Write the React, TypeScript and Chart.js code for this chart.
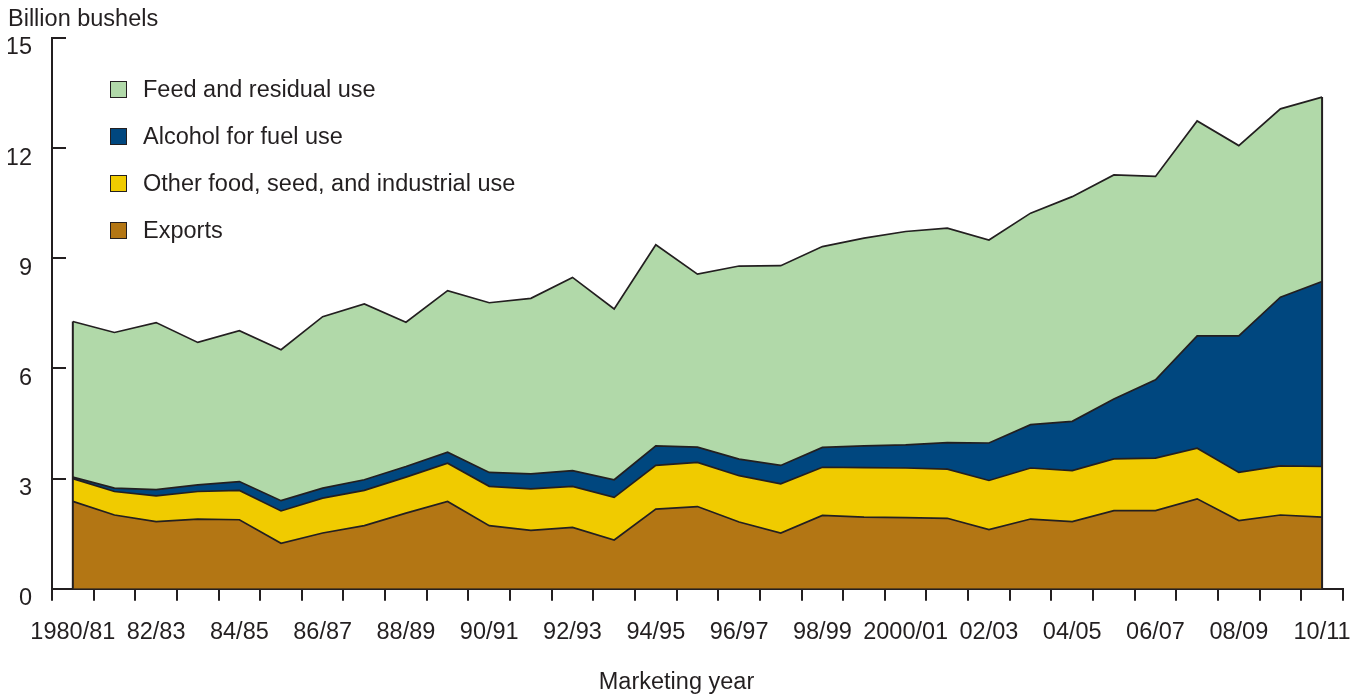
import React, { useEffect, useRef } from 'react';
import { Chart, registerables } from 'chart.js';

Chart.register(...registerables);

const marketingYears = [
  '1980/81', '81/82', '82/83', '83/84', '84/85', '85/86', '86/87', '87/88', '88/89', '89/90',
  '90/91', '91/92', '92/93', '93/94', '94/95', '95/96', '96/97', '97/98', '98/99', '99/2000',
  '2000/01', '01/02', '02/03', '03/04', '04/05', '05/06', '06/07', '07/08', '08/09', '09/10', '10/11',
];

const shownYearLabels = [
  '1980/81', '82/83', '84/85', '86/87', '88/89', '90/91', '92/93', '94/95',
  '96/97', '98/99', '2000/01', '02/03', '04/05', '06/07', '08/09', '10/11',
];

const exportsUse = [
  2.38, 2.01, 1.83, 1.90, 1.88, 1.24, 1.52, 1.72, 2.06, 2.38,
  1.72, 1.59, 1.67, 1.33, 2.17, 2.24, 1.82, 1.52, 2.00, 1.95,
  1.94, 1.92, 1.61, 1.90, 1.83, 2.13, 2.13, 2.45, 1.86, 2.01, 1.95,
];

const otherFsiUse = [
  0.62, 0.64, 0.70, 0.75, 0.80, 0.88, 0.95, 0.96, 0.98, 1.04,
  1.07, 1.13, 1.12, 1.16, 1.19, 1.20, 1.26, 1.34, 1.31, 1.35,
  1.35, 1.34, 1.34, 1.39, 1.39, 1.41, 1.43, 1.38, 1.31, 1.34, 1.38,
];

const alcoholFuelUse = [
  0.04, 0.09, 0.17, 0.18, 0.24, 0.28, 0.27, 0.29, 0.29, 0.30,
  0.38, 0.41, 0.43, 0.48, 0.53, 0.42, 0.45, 0.50, 0.54, 0.59,
  0.63, 0.72, 1.02, 1.18, 1.34, 1.63, 2.13, 3.06, 3.72, 4.59, 5.04,
];

const feedResidualUse = [
  4.24, 4.24, 4.55, 3.88, 4.11, 4.11, 4.67, 4.79, 3.93, 4.40,
  4.62, 4.78, 5.26, 4.65, 5.48, 4.71, 5.26, 5.44, 5.47, 5.66,
  5.81, 5.84, 5.53, 5.76, 6.12, 6.10, 5.54, 5.85, 5.18, 5.13, 5.02,
];

const seriesNames = [
  'Exports',
  'Other food, seed, and industrial use',
  'Alcohol for fuel use',
  'Feed and residual use',
];
const seriesColors = ['#b37614', '#f0cb00', '#00477f', '#b1d9a9'];
const seriesValues = [exportsUse, otherFsiUse, alcoholFuelUse, feedResidualUse];

const INK = '#231f20';
const FONT_FAMILY = '"Liberation Sans", Arial, Helvetica, sans-serif';
const FONT_SIZE = 23.5;

const edgePlugin = {
  id: 'areaEdges',
  afterDatasetsDraw(chart: any) {
    const meta = chart.getDatasetMeta(chart.data.datasets.length - 1);
    const pts = meta.data;
    if (!pts || !pts.length) return;
    const y0 = chart.scales.y.getPixelForValue(0);
    const ctx = chart.ctx;
    ctx.save();
    ctx.strokeStyle = INK;
    ctx.lineWidth = 2;
    [pts[0], pts[pts.length - 1]].forEach((p: any) => {
      ctx.beginPath();
      ctx.moveTo(p.x, p.y);
      ctx.lineTo(p.x, y0);
      ctx.stroke();
    });
    ctx.restore();
  },
};

export default function App() {
  const canvasRef = useRef<HTMLCanvasElement | null>(null);

  useEffect(() => {
    if (!canvasRef.current) return;
    const datasets = seriesValues.map((vals, i) => ({
      label: seriesNames[i],
      data: vals,
      backgroundColor: seriesColors[i],
      borderColor: INK,
      borderWidth: 1.7,
      pointRadius: 0,
      pointHoverRadius: 0,
      tension: 0,
      fill: i === 0 ? 'origin' : '-1',
    }));

    const chart = new Chart(canvasRef.current, {
      type: 'line',
      data: { labels: marketingYears, datasets },
      plugins: [edgePlugin],
      options: {
        animation: false,
        responsive: true,
        maintainAspectRatio: false,
        layout: { padding: { left: 8, right: 24, top: 0, bottom: 0 } },
        plugins: {
          legend: { display: false },
          tooltip: { enabled: false },
          title: {
            display: true,
            text: 'Billion bushels',
            align: 'start',
            color: INK,
            font: { family: FONT_FAMILY, size: FONT_SIZE, weight: 'normal' },
            padding: { top: 5, bottom: 4.8 },
          },
          subtitle: {
            display: true,
            text: 'Marketing year',
            position: 'bottom',
            align: 'center',
            color: INK,
            font: { family: FONT_FAMILY, size: FONT_SIZE, weight: 'normal' },
            padding: { top: 0, bottom: 3 },
          },
        },
        scales: {
          x: {
            type: 'category',
            offset: true,
            grid: {
              offset: true,
              drawOnChartArea: false,
              drawTicks: true,
              tickLength: 12,
              color: INK,
              lineWidth: 2,
            },
            border: { display: true, color: INK, width: 2 },
            ticks: {
              autoSkip: false,
              maxRotation: 0,
              minRotation: 0,
              padding: 18,
              color: INK,
              font: { family: FONT_FAMILY, size: FONT_SIZE },
              callback: function (this: any, _v: any, index: number) {
                const lab = marketingYears[index];
                return shownYearLabels.includes(lab) ? lab : '';
              },
            },
            afterFit: (scale: any) => {
              scale.height = 80;
            },
          },
          y: {
            stacked: true,
            min: 0,
            max: 15,
            grid: {
              drawOnChartArea: false,
              drawTicks: true,
              tickLength: -14,
              color: INK,
              lineWidth: 2,
            },
            border: { display: true, color: INK, width: 2 },
            ticks: {
              stepSize: 3,
              padding: 34,
              labelOffset: 10,
              color: INK,
              font: { family: FONT_FAMILY, size: FONT_SIZE },
            },
            afterFit: (scale: any) => {
              scale.width = 44;
              scale.paddingTop = 0;
              scale.paddingBottom = 0;
            },
          },
        },
      },
    });
    return () => chart.destroy();
  }, []);

  const legendOrder = [3, 2, 1, 0];

  return (
    <div style={{ position: 'absolute', left: 0, top: 0, width: 1369, height: 700, background: '#fff' }}>
      <canvas ref={canvasRef} />
      <div
        style={{
          position: 'absolute',
          left: 110,
          top: 75,
          display: 'flex',
          flexDirection: 'column',
          gap: 19,
          fontFamily: FONT_FAMILY,
          fontSize: FONT_SIZE,
          color: INK,
          lineHeight: '28px',
        }}
      >
        {legendOrder.map((i) => (
          <div key={seriesNames[i]} style={{ display: 'flex', alignItems: 'center', height: 28 }}>
            <span
              style={{
                display: 'inline-block',
                width: 15,
                height: 15,
                background: seriesColors[i],
                border: `1.7px solid ${INK}`,
                marginRight: 16,
              }}
            />
            <span>{seriesNames[i]}</span>
          </div>
        ))}
      </div>
    </div>
  );
}
